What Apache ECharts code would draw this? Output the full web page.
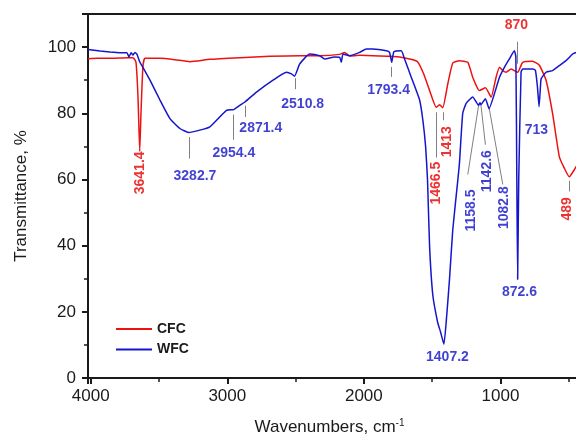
<!DOCTYPE html>
<html><head><meta charset="utf-8">
<script src="https://cdn.jsdelivr.net/npm/echarts@6/dist/echarts.min.js"></script>
<style>html,body{margin:0;padding:0;background:#fff;overflow:hidden}#c{width:640px;height:441px}</style>
</head><body><div id="c"></div>
<script>
// CFC spectrum (wavenumber, transmittance %)
const cfcX = [4020,3950,3859,3727,3691,3669,3654,3641.4,3632,3618,3603,3493,3384,3274,3128,2908,2689,2470,2324,2178,2141,2104,2031,1885,1739,1666,1607,1563,1519,1470,1446,1422,1385,1349,1300,1239,1203,1166,1154,1110,1068,1032,1007,983,958,922,874,837,764,715,666,618,569,532,496,452,420];
const cfcY = [96.5,96.6,96.6,96.8,96.8,95.5,85,68.5,80,94,96.6,96.6,96.2,95.6,96.3,96.8,97.2,97.4,97.4,97.8,98.4,97.3,97.5,97.3,97.0,96.4,95.6,92,86.9,81.8,82.6,81.7,89,95.2,95.9,95.4,90.9,87.4,86.9,87.7,84.9,90.9,93.9,92.9,92.4,93.4,92.4,95.4,95.7,94.5,90,79.9,66.9,63.4,60.8,63.4,65.5];
// WFC spectrum
const wfcX = [4020,3932,3859,3786,3735,3720,3705,3691,3676,3661,3640,3618,3566,3493,3420,3347,3283,3201,3128,3006,2954,2908,2871,2786,2665,2567,2530,2508,2470,2397,2324,2287,2214,2177,2165,2153,2104,2031,1982,1936,1836,1812,1796,1780,1726,1702,1653,1592,1568,1548,1534,1519,1495,1459,1439,1414,1395,1373,1349,1312,1300,1276,1251,1203,1160,1150,1143,1110,1083,1044,1007,971,935,898,887,880,874,866,849,837,764,744,729,717,707,702,666,618,569,520,471,452,420];
const wfcY = [99.3,98.8,98.5,98.3,98.3,97.0,98.3,97.6,98.4,97.8,95.4,93.9,90,84,78.4,75.4,74.2,74.9,75.9,80.9,81.1,82.4,83.4,86.4,90,92.4,91.9,91.2,94.9,97.9,97.4,96.4,97,96.9,95.4,97.9,97.4,98.4,99.4,99.4,98.9,98.4,95.4,98.6,98.9,96.4,90.9,84,77.9,70,60,40,25,16.7,14,10.2,18,29.8,44.8,59.8,65,80,83,84.9,82.4,83.2,82.6,84.4,81.4,85.9,90.9,93.9,96.4,98.9,97,60,29.8,60,92.4,93.4,93.4,93,88,82,88,90.4,92.4,92.9,94.4,95.9,97.9,98.3,98.6];

const seriesNames = ['CFC','WFC'];
const xTicks = [1000,2000,3000,4000];
const yTicks = [0,20,40,60,80,100];

// Peak annotations: text, label anchor (wavenumber, %), rotation
const cfcLabelText = ['3641.4','1466.5','1413','870','489'];
const cfcLabelX = [3641.4,1468,1391,883,510];
const cfcLabelY = [62.0,58.9,71.4,106.7,51.1];
const cfcLabelRot = [90,90,90,0,90];
// leader lines: [x1,y1,x2,y2]
const cfcLeaders = [[1470,80.3,1470,66.6],[1422,80.3,1422,77.9],[874,101.6,874,95],[496,59.6,496,56.4]];

const wfcLabelText = ['3282.7','2954.4','2871.4','2510.8','1793.4','1407.2','1158.5','1142.6','1082.8','872.6','713'];
const wfcLabelX = [3237,2952,2755,2448,1819,1388,1212,1095,971,861,737];
const wfcLabelY = [61.0,68.0,75.6,82.9,87.1,6.2,50.6,62.5,51.5,25.8,75.0];
const wfcLabelRot = [0,0,0,0,0,0,90,90,90,0,0];
const wfcLeaders = [[3279,72.8,3279,66.3],[2957,79.6,2957,72.0],[2867,82.3,2867,78.9],[2506,90.6,2506,87.3],[1799,94.0,1799,91.0],[1159,82.6,1239,61.5],[1143,82.6,1110,70.5],[1083,81.7,983,58.5]];

const RED = '#ee1111', BLUE = '#1515cc';
const RED_TXT = '#e60000', BLUE_TXT = '#1010c8';
const FONT = 'Liberation Sans, Arial, sans-serif';

function zip(a,b){return a.map((v,i)=>[v,b[i]]);}
function labelData(t,x,y,r,color){
  return t.map((s,i)=>({value:[x[i],y[i]], name:s, label:{show:true, formatter:s, rotate:r[i], position:'inside', color:color, fontWeight:'bold', fontSize:14, fontFamily:FONT, align:'center', verticalAlign:'middle'}}));
}
function leaderData(arr){return arr.map(a=>({coords:[[a[0],a[1]],[a[2],a[3]]]}));}

const chart = echarts.init(document.getElementById('c'), null, {renderer:'canvas'});
chart.setOption({
  animation:false,
  backgroundColor:'#fff',
  grid:{left:88, top:14, bottom:62, right:2.2, show:true, borderColor:'#1a1a1a', borderWidth:2, backgroundColor:'transparent'},
  legend:{
    data:seriesNames, orient:'vertical', left:111, top:316, icon:'rect', itemWidth:36, itemHeight:2, itemGap:4.5,
    textStyle:{color:'#1a1a1a', fontWeight:'bold', fontSize:14, fontFamily:FONT, lineHeight:16}
  },
  xAxis:{
    type:'value', inverse:true, min:0, max:4020, interval:1000,
    name:'Wavenumbers, cm{sup|-1}', nameLocation:'middle', nameGap:40,
    nameTextStyle:{color:'#1a1a1a', fontSize:17, fontFamily:FONT, padding:[0,66,0,0], rich:{sup:{fontSize:10, verticalAlign:'top', padding:[0,0,9,0], fontFamily:FONT, color:'#1a1a1a'}}},
    axisLine:{onZero:false, lineStyle:{color:'#1a1a1a', width:2}},
    axisTick:{show:true, length:6, lineStyle:{color:'#1a1a1a', width:2}},
    minorTick:{show:true, splitNumber:2, length:4, lineStyle:{color:'#1a1a1a', width:1.5}},
    splitLine:{show:false},
    axisLabel:{margin:10, color:'#1a1a1a', fontSize:17, fontFamily:FONT, showMaxLabel:false,
      formatter:v=> xTicks.indexOf(v)>=0 ? String(v) : ''}
  },
  yAxis:{
    type:'value', min:0, max:110, interval:20,
    name:'Transmittance, %', nameLocation:'middle', nameGap:58,
    nameTextStyle:{color:'#1a1a1a', fontSize:17, fontFamily:FONT},
    axisLine:{onZero:false, lineStyle:{color:'#1a1a1a', width:2}},
    axisTick:{show:true, length:6, lineStyle:{color:'#1a1a1a', width:2}},
    minorTick:{show:true, splitNumber:2, length:4, lineStyle:{color:'#1a1a1a', width:1.5}},
    splitLine:{show:false},
    axisLabel:{margin:12, color:'#1a1a1a', fontSize:17, fontFamily:FONT,
      formatter:v=> yTicks.indexOf(v)>=0 ? String(v) : ''}
  },
  series:[
    {name:seriesNames[0], type:'line', data:zip(cfcX,cfcY), symbol:'none', smooth:0.15, lineStyle:{color:RED, width:1.5}, itemStyle:{color:RED}, z:3},
    {name:seriesNames[1], type:'line', data:zip(wfcX,wfcY), symbol:'none', smooth:0.15, lineStyle:{color:BLUE, width:1.5}, itemStyle:{color:BLUE}, z:4},
    {type:'lines', coordinateSystem:'cartesian2d', data:leaderData(cfcLeaders.concat(wfcLeaders)), lineStyle:{color:'#808080', width:1, opacity:1}, silent:true, z:2},
    {type:'scatter', data:labelData(cfcLabelText,cfcLabelX,cfcLabelY,cfcLabelRot,RED_TXT), symbolSize:0, silent:true, z:5},
    {type:'scatter', data:labelData(wfcLabelText,wfcLabelX,wfcLabelY,wfcLabelRot,BLUE_TXT), symbolSize:0, silent:true, z:5}
  ]
});
</script></body></html>
